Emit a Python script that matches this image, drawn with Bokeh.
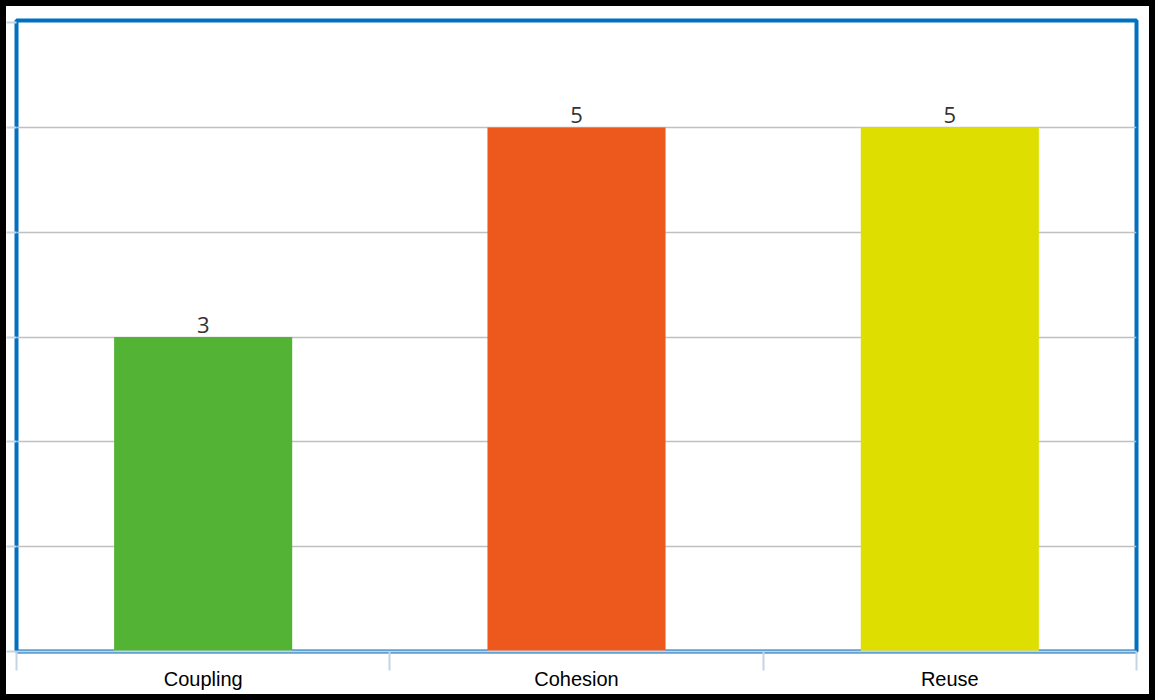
from bokeh.plotting import figure
from bokeh.models import ColumnDataSource, FixedTicker, Range1d
from bokeh.core.properties import value
from bokeh.embed import file_html
from bokeh.resources import INLINE

categories = ["Coupling", "Cohesion", "Reuse"]
scores = [3, 5, 5]
colors = ["#52B334", "#ED581D", "#DEDF00"]
y_ticks = [0, 1, 2, 3, 4, 5, 6]

xs = [i + 0.5 for i in range(len(categories))]
source = ColumnDataSource(dict(x=xs, top=scores, color=colors,
                               label=[str(s) for s in scores], cat=categories))

p = figure(width=1155, height=700, output_backend="svg", toolbar_location=None,
           x_range=Range1d(0, len(categories)), y_range=Range1d(0, 6.02),
           min_border_left=10, min_border_right=25, min_border_top=14, min_border_bottom=55,
           background_fill_color="white", border_fill_color="white",
           styles={"border": "6px solid black"})

p.outline_line_color = "#0070C0"
p.outline_line_width = 4
p.outline_line_alpha = 1.0

p.xgrid.grid_line_color = None
p.ygrid.grid_line_color = "#C0C0C0"
p.ygrid.grid_line_width = 1.5
p.ygrid.ticker = FixedTicker(ticks=y_ticks[1:-1])

p.vbar(x="x", top="top", width=0.477, bottom=0, color="color", line_color=None, source=source)
p.text(x="x", y="top", text="label", source=source, text_align="center",
       text_baseline="bottom", y_offset=-4, text_font=value("Open Sans"),
       text_font_size="22px", text_color="#333333")

xa = p.xaxis[0]
xa.ticker = FixedTicker(ticks=xs, minor_ticks=list(range(len(categories) + 1)))
xa.major_label_overrides = {x: c for x, c in zip(xs, categories)}
xa.major_tick_line_color = None
xa.major_tick_out = 0
xa.major_tick_in = 0
xa.minor_tick_out = 19
xa.minor_tick_in = 0
xa.minor_tick_line_color = "#C5D3E3"
xa.minor_tick_line_width = 2
xa.axis_line_color = "#C5D3E3"
xa.axis_line_width = 2
xa.major_label_standoff = -3
xa.major_label_text_font = "Liberation Sans"
xa.major_label_text_font_size = "20px"
xa.major_label_text_color = "#000000"

ya = p.yaxis[0]
ya.ticker = FixedTicker(ticks=y_ticks)
ya.axis_line_color = None
ya.major_tick_out = 10
ya.major_tick_in = 0
ya.major_tick_line_color = "#C5D3E3"
ya.major_tick_line_width = 2
ya.minor_tick_line_color = None
ya.major_label_text_font_size = "0px"
ya.major_label_standoff = 0
ya.major_label_text_color = None

open("out.html", "w").write(file_html(p, INLINE))
